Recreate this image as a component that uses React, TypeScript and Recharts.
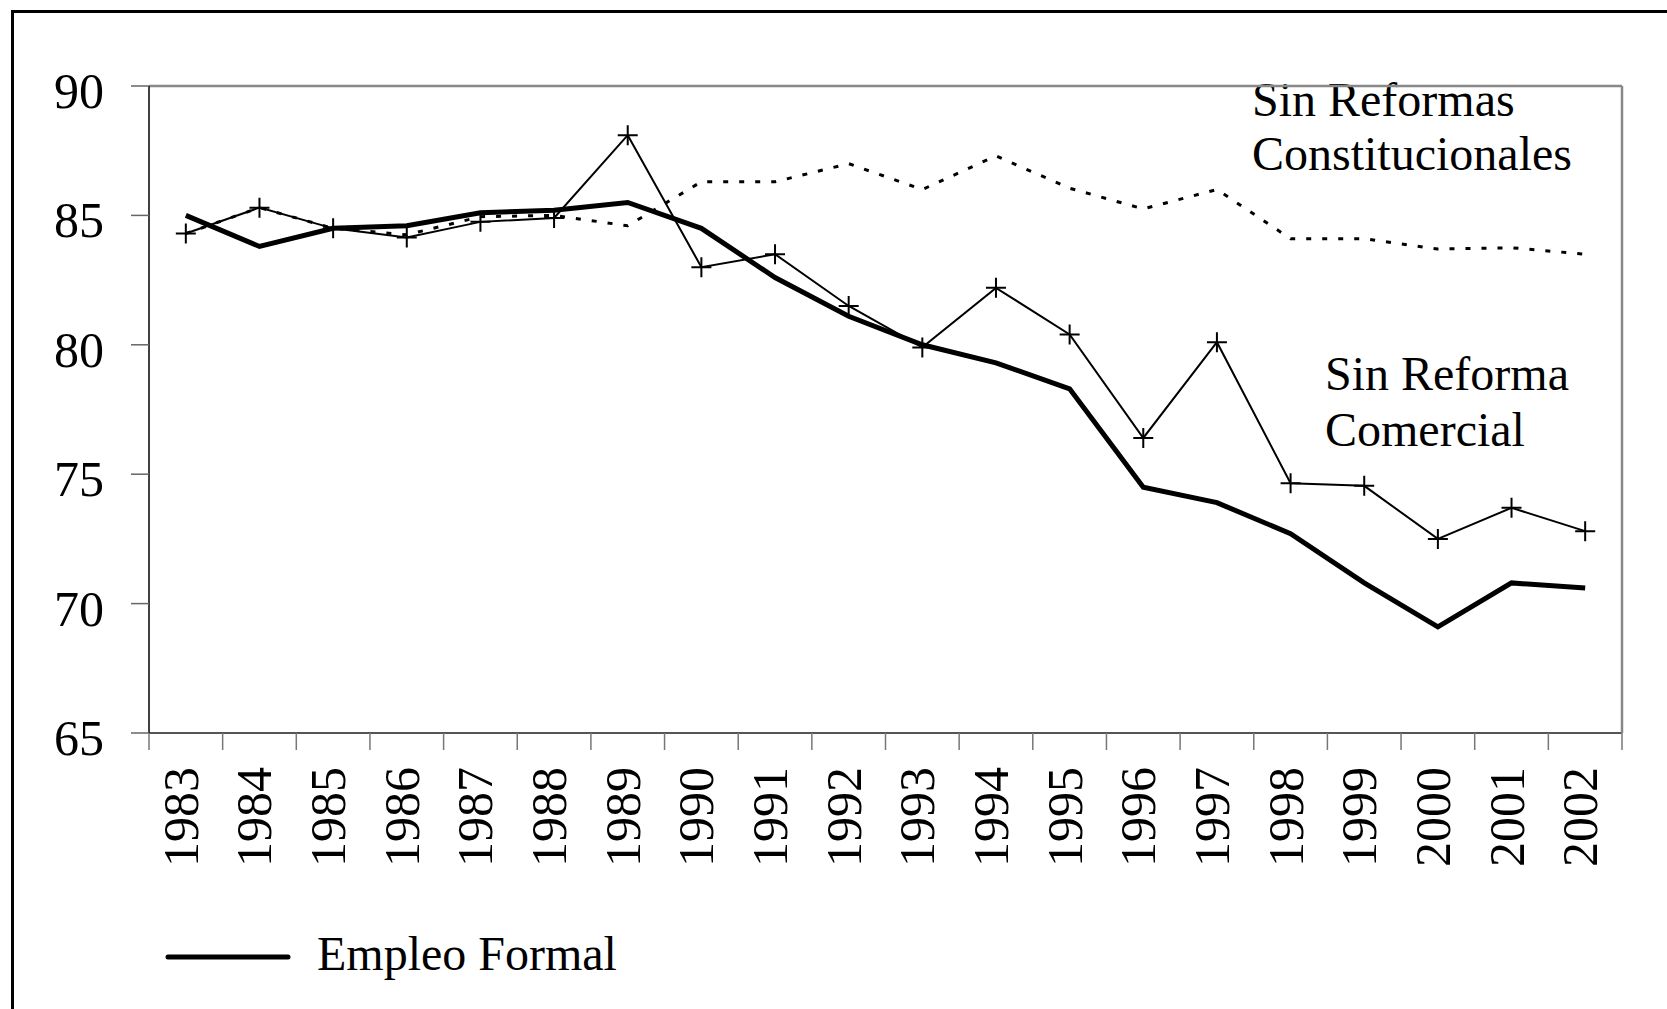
import React from "react";
import {
  ComposedChart,
  Line,
  XAxis,
  YAxis,
  Legend,
  Customized,
} from "recharts";

const years = [
  "1983", "1984", "1985", "1986", "1987", "1988", "1989", "1990", "1991", "1992",
  "1993", "1994", "1995", "1996", "1997", "1998", "1999", "2000", "2001", "2002",
];

const empleoFormal = [
  85.0, 83.8, 84.5, 84.6, 85.1, 85.2, 85.5, 84.5, 82.6, 81.1,
  80.0, 79.3, 78.3, 74.5, 73.9, 72.7, 70.8, 69.1, 70.8, 70.6,
];

const sinReformaComercial = [
  84.3, 85.3, 84.5, 84.15, 84.75, 84.9, 88.1, 83.0, 83.5, 81.5,
  79.9, 82.2, 80.4, 76.4, 80.1, 74.65, 74.55, 72.5, 73.7, 72.8,
];

const sinReformasConst = [
  84.3, 85.3, 84.5, 84.25, 84.95, 85.0, 84.6, 86.3, 86.3, 87.0,
  86.0, 87.3, 86.05, 85.25, 86.0, 84.1, 84.1, 83.7, 83.75, 83.5,
];

const yTicks = [65, 70, 75, 80, 85, 90];

const data = years.map((y, i) => ({
  year: y,
  formal: empleoFormal[i],
  comercial: sinReformaComercial[i],
  constit: sinReformasConst[i],
}));

const FONT = '"Liberation Serif", "Times New Roman", serif';
const W = 1667;
const H = 1009;
const LEFT = 149;
const RIGHT = 44;
const HALF_BAND = (W - LEFT - RIGHT - 1) / years.length / 2;

// year labels: rotated, tick marks sit on band edges
const XTick = (props: any) => {
  const { x, y, payload, index } = props;
  return (
    <g>
      <line x1={x - HALF_BAND} y1={y} x2={x - HALF_BAND} y2={y + 17} stroke="#777" strokeWidth={1.5} />
      {index === years.length - 1 && (
        <line x1={x + HALF_BAND} y1={y} x2={x + HALF_BAND} y2={y + 17} stroke="#777" strokeWidth={1.5} />
      )}
      <text
        transform={`translate(${x + 12},${y + 34}) rotate(-90)`}
        textAnchor="end"
        fontFamily={FONT}
        fontSize={50}
        fill="#000"
      >
        {payload.value}
      </text>
    </g>
  );
};

const YTick = (props: any) => {
  const { x, y, payload } = props;
  return (
    <text x={x} y={y + 22} textAnchor="end" fontFamily={FONT} fontSize={50} fill="#000">
      {payload.value}
    </text>
  );
};

const Plus = (props: any) => {
  const { cx, cy } = props;
  if (cx == null || cy == null) return null;
  return (
    <path
      d={`M${cx - 10},${cy}H${cx + 10}M${cx},${cy - 10}V${cy + 10}`}
      stroke="#000"
      strokeWidth={2}
      fill="none"
    />
  );
};

const Notes = () => (
  <g fontFamily={FONT} fontSize={48} fill="#000">
    <text x={1252} y={116}>Sin Reformas</text>
    <text x={1252} y={170}>Constitucionales</text>
    <text x={1325} y={390}>Sin Reforma</text>
    <text x={1325} y={446}>Comercial</text>
  </g>
);

const LegendBox = () => (
  <svg width={520} height={70}>
    <line x1={8} y1={37} x2={128} y2={37} stroke="#000" strokeWidth={5} strokeLinecap="round" />
    <text x={157} y={50} fontFamily={FONT} fontSize={48} fill="#000">
      Empleo Formal
    </text>
  </svg>
);

export default function App() {
  return (
    <div style={{ position: "relative", width: W, height: H, background: "#fff" }}>
      <style>{`body{margin:0}`}</style>
      <ComposedChart
        width={W}
        height={H}
        data={data}
        margin={{ top: 85, right: RIGHT, bottom: 0, left: 0 }}
      >
        <XAxis
          dataKey="year"
          scale="band"
          height={276}
          interval={0}
          tickSize={0}
          tickMargin={0}
          tickLine={false}
          axisLine={{ stroke: "#555", strokeWidth: 2 }}
          tick={<XTick />}
        />
        <XAxis
          xAxisId="top"
          orientation="top"
          dataKey="year"
          scale="band"
          height={1}
          tick={false}
          tickLine={false}
          axisLine={{ stroke: "#888", strokeWidth: 2.5 }}
        />
        <YAxis
          domain={[65, 90]}
          ticks={yTicks}
          width={LEFT}
          interval={0}
          tickSize={18}
          tickMargin={27}
          tickLine={{ stroke: "#666", strokeWidth: 1.5 }}
          axisLine={{ stroke: "#000", strokeWidth: 1.5 }}
          tick={<YTick />}
        />
        <YAxis
          yAxisId="right"
          orientation="right"
          width={1}
          tick={false}
          tickLine={false}
          axisLine={{ stroke: "#888", strokeWidth: 2.5 }}
        />
        <Line
          dataKey="constit"
          stroke="#000"
          strokeWidth={3}
          strokeDasharray="5 11"
          dot={false}
          activeDot={false}
          isAnimationActive={false}
        />
        <Line
          dataKey="comercial"
          stroke="#000"
          strokeWidth={2}
          dot={<Plus />}
          activeDot={false}
          isAnimationActive={false}
        />
        <Line
          dataKey="formal"
          stroke="#000"
          strokeWidth={5}
          dot={false}
          activeDot={false}
          isAnimationActive={false}
        />
        <Customized component={Notes} />
        <Legend
          layout="horizontal"
          verticalAlign="middle"
          align="center"
          wrapperStyle={{ position: "absolute", left: 160, top: 920, width: 520, height: 70 }}
          content={<LegendBox />}
        />
      </ComposedChart>
      <div
        style={{
          position: "absolute",
          left: 11,
          top: 10,
          right: 0,
          bottom: 0,
          borderLeft: "3px solid #000",
          borderTop: "3px solid #000",
          pointerEvents: "none",
        }}
      />
    </div>
  );
}
